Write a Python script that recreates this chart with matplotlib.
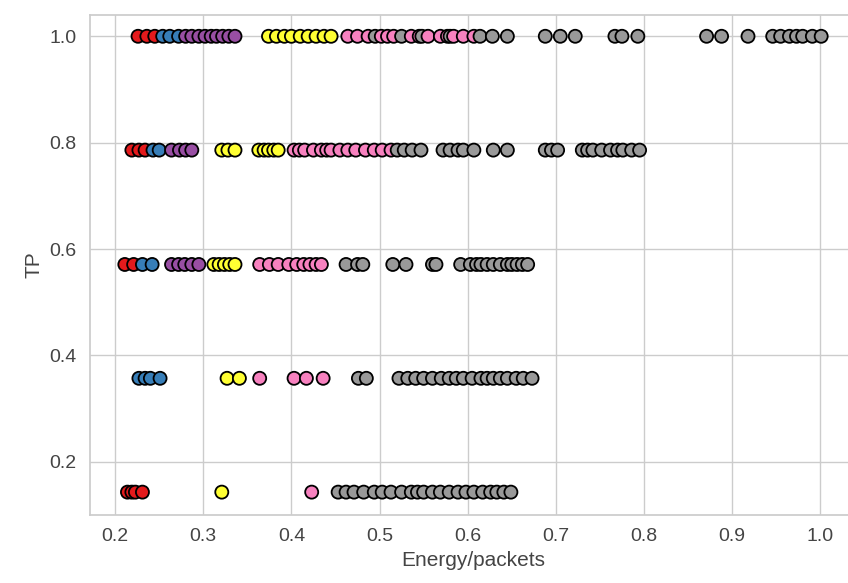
"""Scatter of TP against energy per packet, coloured by cluster."""
import matplotlib
matplotlib.use("Agg")
import matplotlib.pyplot as plt
import numpy as np
import seaborn as sns

sns.set_theme(style="whitegrid")
plt.rcParams["font.family"] = ["Liberation Sans", "DejaVu Sans"]

# cluster colours (Set1 subset)
palette = {
    "red": "#e41a1c",
    "blue": "#377eb8",
    "purple": "#984ea3",
    "yellow": "#ffff33",
    "pink": "#f781bf",
    "gray": "#999999",
}

tp_levels = [1.0, 0.786, 0.571, 0.357, 0.143]

# energy/packets per TP level, grouped by cluster
row_10 = {
    "red": [0.226, 0.236, 0.245],
    "blue": [0.254, 0.262, 0.272],
    "purple": [0.280, 0.287, 0.295, 0.302, 0.309, 0.315, 0.322, 0.329, 0.336],
    "yellow": [0.374, 0.383, 0.392, 0.400, 0.410, 0.419, 0.428, 0.437, 0.445],
    "pink": [0.464, 0.475, 0.487, 0.502, 0.509, 0.516, 0.536, 0.545, 0.555,
             0.569, 0.577, 0.584, 0.595, 0.607],
    "gray": [0.495, 0.525, 0.548, 0.580, 0.614, 0.628, 0.645, 0.688, 0.705, 0.722,
             0.767, 0.775, 0.793, 0.871, 0.888, 0.918, 0.946, 0.955, 0.965, 0.973,
             0.980, 0.991, 1.001],
}
row_08 = {
    "red": [0.219, 0.227, 0.234],
    "blue": [0.243, 0.250],
    "purple": [0.264, 0.273, 0.280, 0.287],
    "yellow": [0.321, 0.328, 0.336, 0.363, 0.369, 0.374, 0.380, 0.385],
    "pink": [0.403, 0.409, 0.415, 0.425, 0.434, 0.440, 0.445, 0.455, 0.464,
             0.473, 0.484, 0.494, 0.503, 0.513],
    "gray": [0.520, 0.528, 0.537, 0.547, 0.572, 0.580, 0.589, 0.595, 0.607, 0.629,
             0.645, 0.688, 0.695, 0.702, 0.730, 0.736, 0.742, 0.752, 0.762, 0.770,
             0.776, 0.786, 0.795],
}
row_06 = {
    "red": [0.211, 0.221],
    "blue": [0.231, 0.242],
    "purple": [0.264, 0.272, 0.279, 0.287, 0.295],
    "yellow": [0.312, 0.318, 0.324, 0.330, 0.336],
    "pink": [0.364, 0.375, 0.385, 0.397, 0.406, 0.414, 0.421, 0.428, 0.434],
    "gray": [0.462, 0.475, 0.481, 0.515, 0.530, 0.560, 0.564, 0.592, 0.603, 0.610,
             0.615, 0.622, 0.629, 0.637, 0.645, 0.650, 0.656, 0.662, 0.668],
}
row_04 = {
    "blue": [0.227, 0.234, 0.240, 0.251],
    "yellow": [0.327, 0.341],
    "pink": [0.364, 0.403, 0.417, 0.436],
    "gray": [0.476, 0.485, 0.522, 0.532, 0.541, 0.550, 0.560, 0.570, 0.579, 0.587,
             0.595, 0.605, 0.615, 0.622, 0.629, 0.637, 0.645, 0.655, 0.663, 0.673],
}
row_01 = {
    "red": [0.214, 0.219, 0.223, 0.231],
    "yellow": [0.321],
    "pink": [0.423],
    "gray": [0.453, 0.462, 0.471, 0.482, 0.494, 0.503, 0.513, 0.525, 0.536, 0.543,
             0.550, 0.560, 0.569, 0.579, 0.589, 0.598, 0.607, 0.617, 0.626, 0.633,
             0.641, 0.649],
}
rows = [row_10, row_08, row_06, row_04, row_01]

xs, ys, cs = [], [], []
for tp, row in zip(tp_levels, rows):
    for cl, vals in row.items():
        for v in vals:
            xs.append(v)
            ys.append(tp)
            cs.append(palette[cl])
order = np.argsort(xs, kind="stable")
xs = np.array(xs)[order]
ys = np.array(ys)[order]
cs = [cs[i] for i in order]

fig = plt.figure(figsize=(8.48, 5.83), dpi=100)
ax = fig.add_axes([90 / 848, 1 - 515 / 583, 766 / 848, 500 / 583])
ax.scatter(xs, ys, c=cs, s=88, edgecolors="black", linewidths=1.3, zorder=3)

ax.set_xlim(0.1715, 1.0405)
ax.set_ylim(0.1, 1.04)
ax.set_xticks([0.2, 0.3, 0.4, 0.5, 0.6, 0.7, 0.8, 0.9, 1.0])
ax.set_yticks([0.2, 0.4, 0.6, 0.8, 1.0])
ax.tick_params(labelsize=14, colors="#444444")
ax.set_xlabel("Energy/packets", fontsize=15, color="#444444", labelpad=4)
ax.set_ylabel("TP", fontsize=15, color="#444444")

fig.savefig("out.png", dpi=100)
